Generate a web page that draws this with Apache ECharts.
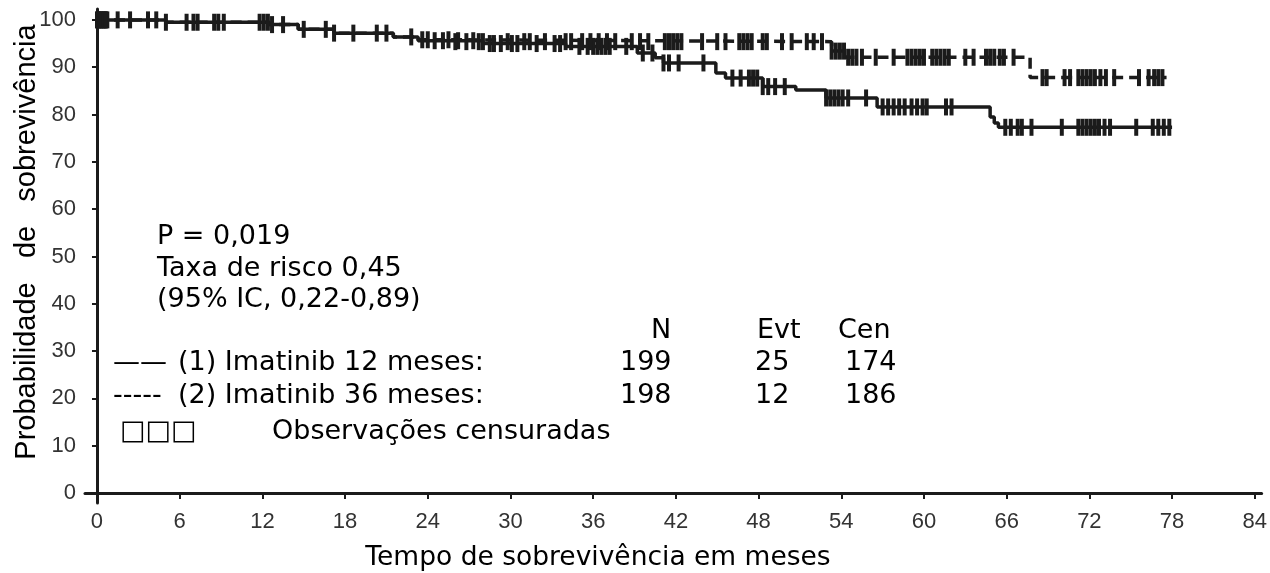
<!DOCTYPE html>
<html><head><meta charset="utf-8">
<script src="https://cdn.jsdelivr.net/npm/echarts@6/dist/echarts.min.js"></script>
<style>html,body{margin:0;padding:0;background:#fff}#c{width:1270px;height:573px}</style>
</head><body><div id="c"></div>
<script>
// Tick labels
const xTicks = [0,6,12,18,24,30,36,42,48,54,60,66,72,78,84];
const yTicks = [0,10,20,30,40,50,60,70,80,90,100];

// Kaplan-Meier steps: [month, survival %]
const steps12 = [[0,100],[5.0,99.5],[12.5,99.0],[14.6,98.0],[17.2,97.2],[21.5,96.4],[23.3,95.6],[28,95.0],[34,94.4],[39.2,93.0],[40.5,92.0],[41.1,90.9],[44.9,88.8],[45.6,87.7],[48.3,85.9],[50.7,85.2],[52.9,83.5],[56.6,81.6],[64.8,79.5],[65.1,78.2],[65.4,77.3],[78,77.3]];
const steps36 = [[0,100],[5.0,99.5],[12.5,99.0],[14.6,98.0],[17.2,97.2],[21.5,96.4],[23.3,95.8],[26,95.4],[53.3,93.4],[54.3,92.1],[67.7,87.8],[77.6,87.8]];

// Censored observation times (months)
const cens12 = [0.0,0.15,0.3,0.45,0.6,0.75,2.4,3.7,5.0,7.3,8.5,8.8,12.1,12.4,12.7,16.6,17.2,20.3,22.8,24.5,25.1,26.2,27.3,28.5,28.8,29.3,30.1,30.5,31.9,33.2,33.6,35.0,35.6,36.0,36.3,36.6,36.9,37.2,38.4,39.6,40.3,41.1,41.5,42.2,44.0,46.1,46.7,47.3,47.6,47.9,48.3,48.7,49.2,49.9,52.9,53.2,53.5,53.8,54.1,54.5,55.8,57.0,57.4,57.8,58.2,58.6,59.1,59.5,59.9,60.2,61.6,62.0,65.9,66.3,66.8,67.1,67.8,70.0,71.2,71.5,71.8,72.1,72.4,72.7,73.1,73.5,75.4,76.6,77.0,77.4,77.8];
const cens36 = [0.05,0.2,0.35,0.5,0.65,1.5,4.3,6.5,7.0,9.2,11.8,13.5,15.0,18.6,21.0,23.6,24.0,25.5,26.0,26.8,27.7,28.0,29.8,31.0,31.4,32.5,34.0,34.4,35.2,35.8,36.4,37.0,37.6,38.8,39.4,40.0,41.2,41.5,41.8,42.1,42.4,43.9,45.0,45.6,46.6,46.9,47.2,47.5,48.3,48.6,49.7,50.4,51.5,52.0,52.6,53.3,53.6,53.9,54.2,54.5,54.8,55.1,55.5,56.5,57.8,58.8,59.1,59.4,59.7,60.0,60.6,60.9,61.2,61.5,61.8,63.0,63.6,64.5,64.8,65.1,65.5,65.8,66.5,68.6,68.9,70.2,70.6,71.2,71.5,71.8,72.1,72.4,72.8,73.2,73.8,75.6,76.3,76.7,77.0,77.3];

function survAt(steps, t){ let s = steps[0][1]; for (const p of steps){ if (p[0] <= t) s = p[1]; else break; } return s; }

const ink = '#1b1b1b';
const chart = echarts.init(document.getElementById('c'), null, {renderer:'canvas'});
const T = (text, x, y, extra) => ({type:'text', x, y, style:Object.assign({text, fill:'#000', font:'27px "DejaVu Sans"', verticalAlign:'middle'}, extra||{})});
chart.setOption({
  animation:false,
  grid:{left:85, right:2, top:9, bottom:70},
  xAxis:{type:'value', min:-0.87, max:84.5,
    axisLine:{lineStyle:{color:ink, width:3}},
    axisTick:{customValues:xTicks, length:6, lineStyle:{color:ink, width:2}},
    axisLabel:{customValues:xTicks, color:'#333', fontFamily:'Liberation Sans', fontSize:22, margin:8},
    splitLine:{show:false}
  },
  yAxis:{type:'value', min:-2.1, max:102.3,
    axisLine:{show:true, lineStyle:{color:ink, width:3}},
    axisTick:{show:true, customValues:yTicks, length:5, lineStyle:{color:ink, width:2}},
    axisLabel:{customValues:yTicks, color:'#333', fontFamily:'Liberation Sans', fontSize:22, margin:9},
    splitLine:{show:false}
  },
  series:[
    {type:'line', step:'end', data:steps12, symbol:'none', lineStyle:{color:ink, width:3.5}, z:3},
    {type:'line', step:'end', data:steps36, symbol:'none', lineStyle:{color:ink, width:3.5, type:[11,6]}, z:3},
    {type:'scatter', data:cens12.map(t=>[t, survAt(steps12,t)]), symbol:'rect', symbolSize:[4,17], itemStyle:{color:ink, opacity:1}, z:4},
    {type:'scatter', data:cens36.map(t=>[t, survAt(steps36,t)]), symbol:'rect', symbolSize:[4,17], itemStyle:{color:ink, opacity:1}, z:4}
  ],
  graphic:[
    {type:'text', x:27, y:242, rotation:Math.PI/2, style:{text:'Probabilidade   de   sobrevivência', fill:'#000', font:'29px "Liberation Sans"', align:'center', verticalAlign:'middle'}},
    {type:'text', x:598, y:558, style:{text:'Tempo de sobrevivência em meses', fill:'#000', font:'26.5px "DejaVu Sans"', align:'center', verticalAlign:'middle'}},
    T('P = 0,019', 157, 237),
    T('Taxa de risco 0,45', 157, 269),
    T('(95% IC, 0,22-0,89)', 157, 300),
    T('N', 661, 331, {align:'center'}), T('Evt', 757, 331), T('Cen', 838, 331),
    T('——', 113, 363), T('(1) Imatinib 12 meses:', 178, 363),
    T('199', 620, 363), T('25', 755, 363), T('174', 845, 363),
    T('-----', 113, 396), T('(2) Imatinib 36 meses:', 178, 396),
    T('198', 620, 396), T('12', 755, 396), T('186', 845, 396),
    T('□□□', 120, 432),
    T('Observações censuradas', 272, 432)
  ]
});
</script></body></html>
